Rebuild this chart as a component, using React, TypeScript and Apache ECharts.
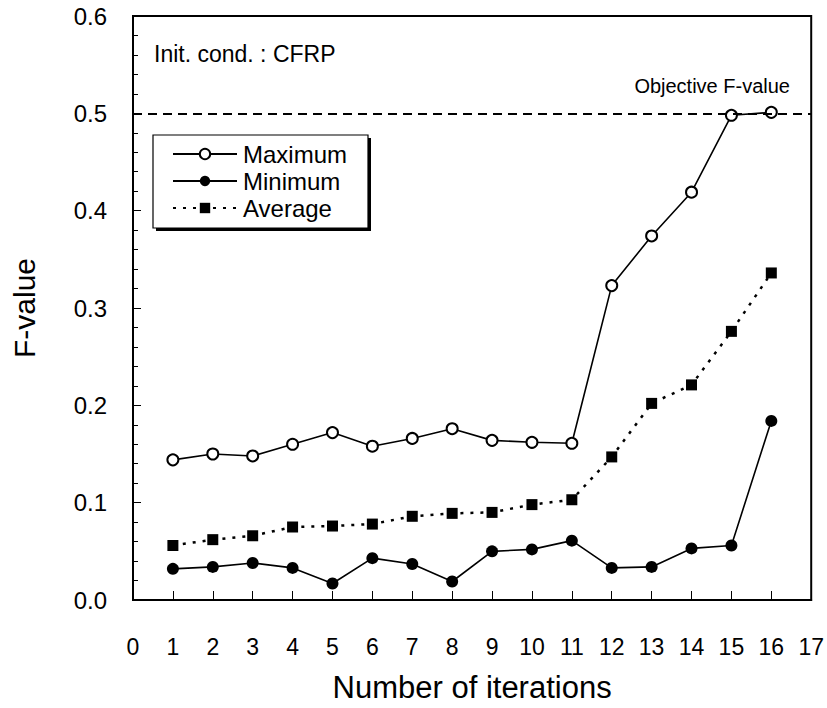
import React, { useEffect, useRef } from "react";
import * as echarts from "echarts";

const iterations = [1, 2, 3, 4, 5, 6, 7, 8, 9, 10, 11, 12, 13, 14, 15, 16];
const maximum = [0.144, 0.150, 0.148, 0.160, 0.172, 0.158, 0.166, 0.176, 0.164, 0.162, 0.161, 0.323, 0.374, 0.419, 0.498, 0.501];
const minimum = [0.032, 0.034, 0.038, 0.033, 0.017, 0.043, 0.037, 0.019, 0.050, 0.052, 0.061, 0.033, 0.034, 0.053, 0.056, 0.184];
const average = [0.056, 0.062, 0.066, 0.075, 0.076, 0.078, 0.086, 0.089, 0.090, 0.098, 0.103, 0.147, 0.202, 0.221, 0.276, 0.336];
const objective = 0.5;

const FONT = "'Liberation Sans', Arial, Helvetica, sans-serif";

export default function App() {
  const ref = useRef<HTMLDivElement>(null);
  useEffect(() => {
    if (!ref.current) return;
    const chart = echarts.init(ref.current, null, { renderer: "svg" });
    const pair = (vals: number[]) => iterations.map((x, i) => [x, vals[i]]);
    chart.setOption({
      animation: false,
      textStyle: { fontFamily: FONT, color: "#000" },
      grid: {
        left: 133,
        right: 15,
        top: 16,
        bottom: 108,
        show: true,
        borderColor: "#000",
        borderWidth: 2,
        backgroundColor: "transparent",
      },
      xAxis: {
        type: "value",
        min: 0,
        max: 17,
        interval: 1,
        name: "Number of iterations",
        nameLocation: "middle",
        nameGap: 72,
        nameTextStyle: { fontSize: 31, color: "#000", fontFamily: FONT },
        axisLine: { show: true, lineStyle: { color: "#000", width: 2 } },
        axisTick: { show: true, inside: true, length: 9, lineStyle: { color: "#000", width: 1 } },
        axisLabel: { fontSize: 23, color: "#000", margin: 35, fontFamily: FONT },
        splitLine: { show: false },
      },
      yAxis: {
        type: "value",
        min: 0,
        max: 0.6,
        interval: 0.1,
        name: "F-value",
        nameLocation: "middle",
        nameGap: 94,
        nameTextStyle: { fontSize: 30, color: "#000", fontFamily: FONT },
        axisLine: { show: true, lineStyle: { color: "#000", width: 2 } },
        axisTick: { show: true, inside: true, length: 8, lineStyle: { color: "#000", width: 1 } },
        minorTick: { show: true, splitNumber: 5, length: 5, lineStyle: { color: "#000", width: 1 } },
        axisLabel: {
          fontSize: 24,
          color: "#000",
          margin: 26,
          fontFamily: FONT,
          formatter: (v: number) => v.toFixed(1),
        },
        splitLine: { show: false },
        minorSplitLine: { show: false },
      },
      legend: {
        orient: "vertical",
        left: 172,
        top: 142,
        itemWidth: 64,
        itemHeight: 13,
        itemGap: 3,
        padding: 0,
        textStyle: { fontSize: 24, color: "#000", fontFamily: FONT, padding: [0, 0, 0, 1] },
        data: ["Maximum", "Minimum", "Average"],
      },
      graphic: [
        { type: "rect", z: 0, shape: { x: 156, y: 138, width: 215, height: 93 }, style: { fill: "#000" } },
        { type: "rect", z: 1, shape: { x: 153, y: 135, width: 215, height: 93 }, style: { fill: "#fff", stroke: "#000", lineWidth: 1.2 } },
        {
          type: "text",
          left: 154,
          top: 42,
          style: { text: "Init. cond. : CFRP", font: `23px ${FONT}`, fill: "#000" },
        },
        {
          type: "text",
          x: 790,
          y: 86,
          style: { text: "Objective F-value", font: `20px ${FONT}`, fill: "#000", textAlign: "right", textVerticalAlign: "middle" },
        },
      ],
      series: [
        {
          name: "Maximum",
          type: "line",
          data: pair(maximum),
          symbol: "circle",
          symbolSize: 11,
          itemStyle: { color: "#fff", borderColor: "#000", borderWidth: 2 },
          lineStyle: { color: "#000", width: 1.6 },
          z: 3,
          markLine: {
            silent: true,
            symbol: "none",
            label: { show: false },
            lineStyle: { color: "#000", width: 2, type: [9, 6] },
            data: [{ yAxis: objective }],
          },
        },
        {
          name: "Minimum",
          type: "line",
          data: pair(minimum),
          symbol: "circle",
          symbolSize: 12,
          itemStyle: { color: "#000", borderColor: "#000", borderWidth: 0 },
          lineStyle: { color: "#000", width: 1.6 },
          z: 3,
        },
        {
          name: "Average",
          type: "line",
          data: pair(average),
          symbol: "rect",
          symbolSize: 11,
          itemStyle: { color: "#000", borderColor: "#000", borderWidth: 0 },
          lineStyle: { color: "#000", width: 2.5, type: [3, 7] },
          z: 3,
        },
      ],
    });
    return () => chart.dispose();
  }, []);
  return (
    <div
      ref={ref}
      style={{ position: "absolute", left: 0, top: 0, width: 827, height: 708 }}
    />
  );
}
